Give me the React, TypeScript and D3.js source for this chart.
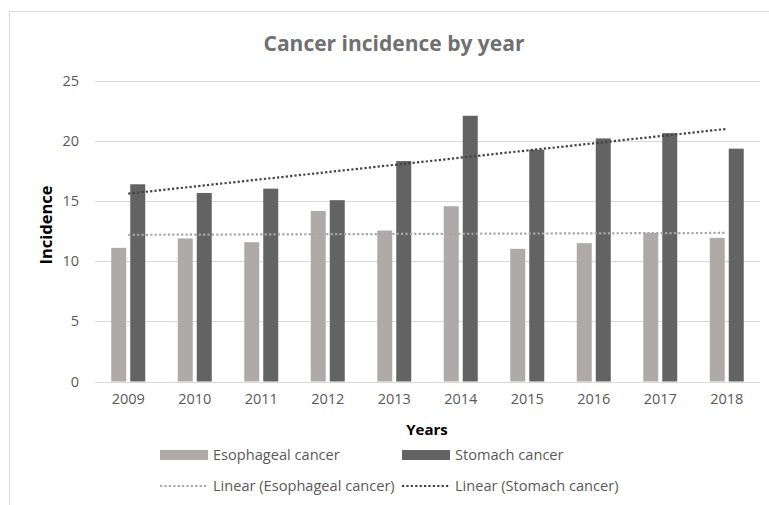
import React from "react";
import * as d3 from "d3";

// Yearly incidence figures
const years = ["2009", "2010", "2011", "2012", "2013", "2014", "2015", "2016", "2017", "2018"];
const esophageal = [11.1, 11.88, 11.57, 14.17, 12.54, 14.56, 11.02, 11.49, 12.35, 11.93];
const stomach = [16.38, 15.66, 16.02, 15.06, 18.31, 22.07, 19.25, 20.19, 20.63, 19.34];
const yTicks = [0, 5, 10, 15, 20, 25];
const seriesNames = ["Esophageal cancer", "Stomach cancer"];

const W = 769;
const H = 505;
const FONT = "'Open Sans', sans-serif";
const LIGHT = "#aeaaaa";
const DARK = "#636363";
const TREND_LIGHT = "#a6a6a6";
const TREND_DARK = "#404040";
const GRID = "#d9d9d9";
const TEXT = "#595959";

// Least-squares fit over category index, as a spreadsheet linear trendline
function linearFit(values: number[]) {
  const xs = values.map((_, i) => i);
  const mx = d3.mean(xs) as number;
  const my = d3.mean(values) as number;
  let num = 0;
  let den = 0;
  xs.forEach((x, i) => {
    num += (x - mx) * (values[i] - my);
    den += (x - mx) * (x - mx);
  });
  const slope = num / den;
  const intercept = my - slope * mx;
  return xs.map((x) => intercept + slope * x);
}

export default function App() {
  const x = d3.scaleBand<string>().domain(years).range([95, 760]).paddingInner(0).paddingOuter(0);
  const inner = d3.scaleBand<string>().domain(seriesNames).range([0, 34]).paddingInner(0.2105);
  const y = d3.scaleLinear().domain([0, 25]).range([381.5, 80.5]);

  const cx = (yr: string) => (x(yr) as number) + x.bandwidth() / 2;
  const line = d3
    .line<number>()
    .x((_, i) => cx(years[i]))
    .y((v) => y(v));

  const trendE = linearFit(esophageal);
  const trendS = linearFit(stomach);

  const seriesData = [esophageal, stomach];
  const colors = [LIGHT, DARK];

  return (
    <svg
      width={W}
      height={H}
      style={{ position: "absolute", left: 0, top: 0, background: "#fff" }}
      fontFamily={FONT}
    >
      <rect x={9.5} y={11.5} width={900} height={700} fill="#fff" stroke={GRID} strokeWidth={1} />

      <text x={394} y={51} textAnchor="middle" fontSize={21} fontWeight={700} fill="#707070">
        Cancer incidence by year
      </text>

      {/* gridlines and y tick labels */}
      {yTicks.map((t) => (
        <g key={t}>
          <line x1={95} x2={760} y1={Math.round(y(t)) + 0.5} y2={Math.round(y(t)) + 0.5} stroke={GRID} strokeWidth={1} />
          <text x={79} y={y(t)} dy="0.35em" textAnchor="end" fontSize={14.5} fill={TEXT}>
            {t}
          </text>
        </g>
      ))}

      {/* bars */}
      {years.map((yr, i) => (
        <g key={yr} transform={`translate(${cx(yr) - 17},0)`}>
          {seriesNames.map((s, k) => (
            <rect
              key={s}
              x={inner(s) as number}
              y={y(seriesData[k][i])}
              width={inner.bandwidth()}
              height={y(0) - y(seriesData[k][i])}
              fill={colors[k]}
            />
          ))}
          <text x={17} y={399} dy="0.35em" textAnchor="middle" fontSize={14.5} fill={TEXT}>
            {yr}
          </text>
        </g>
      ))}

      {/* linear trendlines */}
      <path d={line(trendE) as string} fill="none" stroke={TREND_LIGHT} strokeWidth={2.2} strokeDasharray="2.2 2.2" />
      <path d={line(trendS) as string} fill="none" stroke={TREND_DARK} strokeWidth={2.2} strokeDasharray="2.2 2.2" />

      {/* axis titles */}
      <text x={427} y={430} dy="0.35em" textAnchor="middle" fontSize={15} fontWeight={700} fill="#000">
        Years
      </text>
      <text
        transform={`translate(46,225) rotate(-90)`}
        dy="0.35em"
        textAnchor="middle"
        fontSize={16.5}
        fontWeight={700}
        fill="#000"
      >
        Incidence
      </text>

      {/* legend */}
      <g fontSize={14.6} fill={TEXT}>
        <rect x={160} y={450} width={48} height={10} fill={LIGHT} />
        <text x={213} y={455} dy="0.35em">Esophageal cancer</text>
        <rect x={402} y={450} width={48} height={10} fill={DARK} />
        <text x={455} y={455} dy="0.35em">Stomach cancer</text>
        <line x1={160} x2={208} y1={486} y2={486} stroke={TREND_LIGHT} strokeWidth={2.2} strokeDasharray="2.2 2.2" />
        <text x={213} y={486} dy="0.35em">Linear (Esophageal cancer)</text>
        <line x1={402} x2={450} y1={486} y2={486} stroke={TREND_DARK} strokeWidth={2.2} strokeDasharray="2.2 2.2" />
        <text x={455} y={486} dy="0.35em">Linear (Stomach cancer)</text>
      </g>
    </svg>
  );
}
